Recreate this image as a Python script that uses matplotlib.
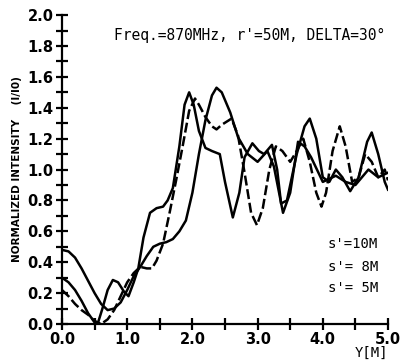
import numpy as np
import matplotlib.pyplot as plt

# s'=10M (solid)
x10 = [0.0, 0.1, 0.2, 0.3, 0.4, 0.5, 0.6, 0.7, 0.8, 0.9, 1.0, 1.1, 1.2, 1.3, 1.4,
       1.5, 1.6, 1.7, 1.8, 1.9, 2.0, 2.1, 2.2, 2.3, 2.37, 2.45, 2.58, 2.7, 2.85,
       3.0, 3.15, 3.25, 3.39, 3.5, 3.62, 3.72, 3.82, 4.0, 4.2, 4.35, 4.5, 4.7,
       4.85, 5.0]
y10 = [0.48, 0.47, 0.43, 0.36, 0.28, 0.20, 0.13, 0.09, 0.10, 0.14, 0.22, 0.31,
       0.37, 0.44, 0.50, 0.52, 0.53, 0.55, 0.60, 0.67, 0.85, 1.10, 1.32, 1.48,
       1.53, 1.50, 1.37, 1.21, 1.10, 1.05, 1.12, 1.02, 0.72, 0.85, 1.18, 1.15,
       1.08, 0.92, 0.96, 0.92, 0.90, 1.00, 0.95, 0.98]

# s'=8M (solid)
x8 = [0.0, 0.1, 0.2, 0.3, 0.4, 0.5, 0.55, 0.62, 0.7, 0.78, 0.86, 0.95, 1.02,
      1.1, 1.17, 1.25, 1.35, 1.45, 1.55, 1.62, 1.7, 1.8, 1.88, 1.95, 2.02, 2.1,
      2.2, 2.3, 2.42, 2.5, 2.62, 2.72, 2.8, 2.92, 3.02, 3.1, 3.22, 3.3, 3.36,
      3.45, 3.6, 3.72, 3.8, 3.9, 4.0, 4.1, 4.2, 4.3, 4.42, 4.55, 4.68, 4.75,
      4.85, 4.95, 5.0]
y8 = [0.30, 0.27, 0.22, 0.15, 0.07, 0.01, 0.005, 0.10, 0.22, 0.285, 0.27, 0.21,
      0.18, 0.27, 0.36, 0.56, 0.72, 0.75, 0.76, 0.80, 0.88, 1.15, 1.42, 1.50,
      1.42, 1.25, 1.14, 1.12, 1.10, 0.92, 0.69, 0.85, 1.08, 1.17, 1.12, 1.10,
      1.16, 1.00, 0.78, 0.80, 1.10, 1.28, 1.33, 1.20, 0.95, 0.92, 1.00, 0.95,
      0.86, 0.95, 1.18, 1.24, 1.10, 0.92, 0.87]

# s'=5M (dashed)
x5 = [0.0, 0.1, 0.2, 0.3, 0.4, 0.5, 0.6, 0.7, 0.8, 0.9, 1.0, 1.1, 1.2, 1.3,
      1.38, 1.45, 1.55, 1.65, 1.75, 1.85, 1.95, 2.04, 2.1, 2.2, 2.3, 2.37, 2.45,
      2.6, 2.7, 2.8, 2.9, 2.99, 3.08, 3.18, 3.28, 3.38, 3.5, 3.6, 3.7, 3.8, 3.9,
      3.98, 4.05, 4.15, 4.26, 4.35, 4.45, 4.55, 4.65, 4.75, 4.85, 4.95, 5.0]
y5 = [0.22, 0.18, 0.13, 0.09, 0.06, 0.02, 0.00, 0.03, 0.09, 0.18, 0.27, 0.33,
      0.37, 0.36, 0.36, 0.41, 0.52, 0.72, 0.93, 1.15, 1.38, 1.46, 1.42, 1.34,
      1.28, 1.26, 1.29, 1.33, 1.22, 0.98, 0.72, 0.64, 0.75, 1.00, 1.15, 1.12,
      1.05, 1.12, 1.20, 1.05, 0.85, 0.76, 0.85, 1.12, 1.28, 1.15, 0.92, 0.95,
      1.10, 1.05, 0.95, 1.00, 0.93]

labels = ["s'=10M", "s'= 8M", "s'= 5M"]
title = "Freq.=870MHz, r'=50M, DELTA=30\u00b0"

fig = plt.figure(figsize=(4, 3.6), dpi=100)
ax = fig.add_axes([0.155, 0.1, 0.815, 0.858])

ax.plot(x10, y10, color='black', lw=1.8, solid_joinstyle='round')
ax.plot(x8, y8, color='black', lw=1.8, solid_joinstyle='round')
ax.plot(x5, y5, color='black', lw=1.8, dashes=(4, 1.5))

ax.set_xlim(0, 5.0)
ax.set_ylim(0, 2.0)
for s in ['top', 'right']:
    ax.spines[s].set_visible(False)
for s in ['left', 'bottom']:
    ax.spines[s].set_linewidth(1.6)

ax.set_yticks(np.arange(0, 2.01, 0.2))
ax.set_yticks(np.arange(0, 2.01, 0.1), minor=True)
ax.set_xticks(np.arange(0, 5.01, 1.0))
ax.set_xticks(np.arange(0, 5.01, 0.5), minor=True)
ax.set_yticklabels(['%.1f' % v for v in np.arange(0, 2.01, 0.2)])
ax.set_xticklabels(['%.1f' % v for v in np.arange(0, 5.01, 1.0)])
ax.tick_params(which='both', direction='inout', length=8, width=1.6,
               labelsize=10.5, pad=2)
for lab in ax.get_xticklabels() + ax.get_yticklabels():
    lab.set_fontweight('heavy')

ax.set_ylabel("NORMALIZED INTENSITY    (I/I0)", fontsize=7.5, fontweight='bold',
              family=['Liberation Sans Narrow', 'DejaVu Sans'], labelpad=4)

ax.text(0.8, 1.87, title, family='DejaVu Sans Mono', fontsize=10.5,
        ha='left', va='center', clip_on=False)
for i, lab in enumerate(labels):
    ax.text(4.08, [0.52, 0.37, 0.23][i], lab, family='DejaVu Sans Mono',
            fontsize=10, ha='left', va='center')
ax.text(5.0, -0.19, "Y[M]", family='DejaVu Sans Mono', fontsize=10,
        ha='right', va='center', clip_on=False)

fig.savefig('out.png', dpi=100)
